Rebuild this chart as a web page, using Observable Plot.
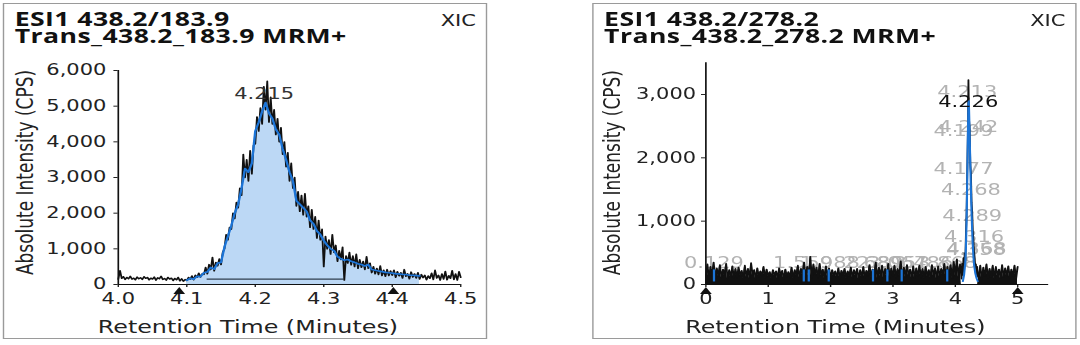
<!DOCTYPE html>
<html>
<head>
<meta charset="utf-8">
<script src="https://cdn.jsdelivr.net/npm/d3@7"></script>
<script src="https://cdn.jsdelivr.net/npm/@observablehq/plot@0.6"></script>
<style>
  html, body { margin: 0; padding: 0; background: #fff; width: 1080px; height: 345px; overflow: hidden; }
  #wrap { position: absolute; left: 0; top: 0; width: 772px; height: 345px; transform: scaleX(1.4); transform-origin: 0 0; }
  .panel { position: absolute; top: 3px; width: 344px; height: 334px; border: 1px solid #9a9a9a; background: #fff; }
  .titles { padding: 7px 0 0 7.5px; font-family: "Open Sans", sans-serif; font-weight: 700; font-size: 19px; line-height: 17px; color: #111; letter-spacing: 0.3px; }
  .xic { position: absolute; right: 7px; top: 9px; font-family: "DejaVu Sans", sans-serif; font-size: 15px; line-height: 17px; color: #222; }
  .chart svg { display: block; }
</style>
</head>
<body>
<div id="wrap">
  <div class="panel" style="left:2px">
    <div class="titles"><div id="t1a"></div><div id="t1b"></div></div>
    <div class="xic" id="x1"></div>
    <div class="chart" id="c1"></div>
  </div>
  <div class="panel" style="left:423px">
    <div class="titles"><div id="t2a"></div><div id="t2b"></div></div>
    <div class="xic" id="x2"></div>
    <div class="chart" id="c2"></div>
  </div>
</div>
<script>
// ---------- texts ----------
const leftTitle = ["ESI1 438.2/183.9", "Trans_438.2_183.9 MRM+"];
const rightTitle = ["ESI1 438.2/278.2", "Trans_438.2_278.2 MRM+"];
const traceType = "XIC";
const xLabel = "Retention Time (Minutes)";
const yLabel = "Absolute Intensity (CPS)";

// ---------- left panel: 438.2/183.9 ----------
const leftXTicks = [4.0, 4.1, 4.2, 4.3, 4.4, 4.5];
const leftYTicks = [0, 1000, 2000, 3000, 4000, 5000, 6000];
const leftRawTimes = [
  4.0000,4.0025,4.0050,4.0075,4.0100,4.0125,4.0150,4.0175,4.0200,4.0225,
  4.0250,4.0275,4.0300,4.0325,4.0350,4.0375,4.0400,4.0425,4.0450,4.0475,
  4.0500,4.0525,4.0550,4.0575,4.0600,4.0625,4.0650,4.0675,4.0700,4.0725,
  4.0750,4.0775,4.0800,4.0825,4.0850,4.0875,4.0900,4.0925,4.0950,4.0975,
  4.1000,4.1025,4.1050,4.1075,4.1100,4.1125,4.1150,4.1175,4.1200,4.1225,
  4.1250,4.1275,4.1300,4.1325,4.1350,4.1375,4.1400,4.1425,4.1450,4.1475,
  4.1500,4.1525,4.1550,4.1575,4.1600,4.1625,4.1650,4.1675,4.1700,4.1725,
  4.1750,4.1775,4.1800,4.1825,4.1850,4.1875,4.1900,4.1925,4.1950,4.1975,
  4.2000,4.2025,4.2050,4.2075,4.2100,4.2125,4.2150,4.2175,4.2200,4.2225,
  4.2250,4.2275,4.2300,4.2325,4.2350,4.2375,4.2400,4.2425,4.2450,4.2475,
  4.2500,4.2525,4.2550,4.2575,4.2600,4.2625,4.2650,4.2675,4.2700,4.2725,
  4.2750,4.2775,4.2800,4.2825,4.2850,4.2875,4.2900,4.2925,4.2950,4.2975,
  4.3000,4.3025,4.3050,4.3075,4.3100,4.3125,4.3150,4.3175,4.3200,4.3225,
  4.3250,4.3275,4.3300,4.3325,4.3350,4.3375,4.3400,4.3425,4.3450,4.3475,
  4.3500,4.3525,4.3550,4.3575,4.3600,4.3625,4.3650,4.3675,4.3700,4.3725,
  4.3750,4.3775,4.3800,4.3825,4.3850,4.3875,4.3900,4.3925,4.3950,4.3975,
  4.4000,4.4025,4.4050,4.4075,4.4100,4.4125,4.4150,4.4175,4.4200,4.4225,
  4.4250,4.4275,4.4300,4.4325,4.4350,4.4375,4.4400,4.4425,4.4450,4.4475,
  4.4500,4.4525,4.4550,4.4575,4.4600,4.4625,4.4650,4.4675,4.4700,4.4725,
  4.4750,4.4775,4.4800,4.4825,4.4850,4.4875,4.4900,4.4925,4.4950,4.4975,
  4.5000];
const leftRawValues = [
  150,390,170,220,140,200,160,230,150,180,
  130,210,160,190,140,220,170,200,130,180,
  150,210,120,190,160,230,140,170,120,200,
  150,180,110,170,130,200,100,160,90,140,
  110,200,150,240,130,260,200,320,210,300,
  280,480,300,560,420,760,380,620,520,720,
  560,900,1000,1400,1250,1600,1550,2000,1850,2300,
  2150,2700,2500,3650,3000,3500,2900,3750,3100,3900,
  3950,4700,4300,4950,4500,5550,4900,5700,4550,5250,
  4500,4900,4200,4650,4000,4400,3650,4000,3300,3700,
  2900,3400,2700,3000,2200,2600,2050,2500,1950,2550,
  1900,2200,1600,2100,1550,1900,1300,1800,1250,1550,
  500,1350,1000,1250,850,1400,900,1100,650,950,
  700,1050,120,800,600,900,550,800,500,850,
  450,700,480,650,420,780,450,600,330,500,
  300,450,280,520,250,400,230,420,250,380,
  260,400,200,360,240,330,180,420,230,300,
  160,350,210,300,180,330,150,280,190,260,
  130,240,170,320,140,400,180,260,120,300,
  150,370,130,250,170,390,140,300,120,360,
  200];
const leftSmoothTimes = [
  4.100,4.105,4.110,4.115,4.120,4.125,4.130,4.135,4.140,4.145,
  4.150,4.155,4.160,4.165,4.170,4.175,4.180,4.185,4.190,4.195,
  4.200,4.205,4.210,4.215,4.220,4.225,4.230,4.235,4.240,4.245,
  4.250,4.255,4.260,4.265,4.270,4.275,4.280,4.285,4.290,4.295,
  4.300,4.305,4.310,4.315,4.320,4.325,4.330,4.335,4.340,4.345,
  4.350,4.355,4.360,4.365,4.370,4.375,4.380,4.385,4.390,4.395,
  4.400,4.405,4.410,4.415,4.420,4.425,4.430,4.435,4.440];
const leftSmoothValues = [
  120,170,150,230,220,330,350,480,430,600,
  620,1050,1350,1650,2000,2250,2700,3250,3150,3400,
  4300,4550,4850,5100,4800,4650,4350,4200,3800,3500,
  3150,2900,2350,2250,2150,2050,1800,1700,1500,1400,
  1230,1100,1000,950,780,720,680,700,650,620,
  580,560,520,560,420,400,380,360,340,330,
  320,300,300,280,280,260,260,250,240];
const leftBaseline = [{t1: 4.13, t2: 4.33, v: 150}];
const leftMarkers = [4.089, 4.4016];
const leftPeakLabels = [{t: 4.213, v: 5160, label: "4.215"}];

// ---------- right panel: 438.2/278.2 ----------
const rightXTicks = [0, 1, 2, 3, 4, 5];
const rightYTicks = [0, 1000, 2000, 3000];
const rightRawTimes = [
  0.000,0.025,0.050,0.075,0.100,0.125,0.150,0.175,0.200,0.225,0.250,0.275,0.300,0.325,0.350,0.375,0.400,0.425,0.450,0.475,
  0.500,0.525,0.550,0.575,0.600,0.625,0.650,0.675,0.700,0.725,0.750,0.775,0.800,0.825,0.850,0.875,0.900,0.925,0.950,0.975,
  1.000,1.025,1.050,1.075,1.100,1.125,1.150,1.175,1.200,1.225,1.250,1.275,1.300,1.325,1.350,1.375,1.400,1.425,1.450,1.475,
  1.500,1.525,1.550,1.575,1.600,1.625,1.650,1.675,1.700,1.725,1.750,1.775,1.800,1.825,1.850,1.875,1.900,1.925,1.950,1.975,
  2.000,2.025,2.050,2.075,2.100,2.125,2.150,2.175,2.200,2.225,2.250,2.275,2.300,2.325,2.350,2.375,2.400,2.425,2.450,2.475,
  2.500,2.525,2.550,2.575,2.600,2.625,2.650,2.675,2.700,2.725,2.750,2.775,2.800,2.825,2.850,2.875,2.900,2.925,2.950,2.975,
  3.000,3.025,3.050,3.075,3.100,3.125,3.150,3.175,3.200,3.225,3.250,3.275,3.300,3.325,3.350,3.375,3.400,3.425,3.450,3.475,
  3.500,3.525,3.550,3.575,3.600,3.625,3.650,3.675,3.700,3.725,3.750,3.775,3.800,3.825,3.850,3.875,3.900,3.925,3.950,3.975,
  4.000,4.025,4.050,4.075,
  4.10,4.11,4.12,4.13,4.14,4.15,4.16,4.17,4.18,4.19,4.20,4.21,4.22,4.23,4.24,4.25,4.26,4.27,4.28,4.29,4.30,4.31,4.32,4.33,4.34,4.35,4.36,
  4.375,4.400,4.425,4.450,4.475,4.500,4.525,4.550,4.575,4.600,4.625,4.650,4.675,4.700,4.725,4.750,4.775,4.800,4.825,4.850,4.875,4.900,4.925,4.950,4.975,5.000];
const rightRawValues = [
  120,320,90,280,140,350,100,260,130,310,110,240,150,330,90,230,120,290,100,250,
  110,270,140,220,90,300,120,250,100,340,150,230,90,260,120,210,140,280,100,240,
  130,200,90,230,140,210,100,260,150,220,90,240,120,200,110,270,90,230,140,300,
  110,250,160,350,120,280,130,440,100,320,150,270,110,330,140,240,100,290,130,260,
  100,230,140,210,110,260,90,220,150,250,100,210,130,270,110,230,140,250,90,230,
  120,280,100,220,140,310,110,240,150,350,100,270,130,300,110,250,140,330,100,260,
  130,300,110,250,140,370,100,270,120,310,150,240,110,290,100,260,130,300,110,250,
  100,280,130,230,110,310,140,260,100,290,120,250,150,330,110,280,130,310,100,360,
  140,400,120,320,
  90,330,150,420,200,500,350,800,1100,1700,2300,3230,2600,2450,1900,1750,1300,1150,850,700,520,420,260,320,150,280,120,
  110,300,90,270,130,320,100,250,120,300,90,280,140,240,100,310,120,260,140,290,100,240,130,300,90,280];
const rightPeakWindow = [4.09, 4.37];
const rightSmoothTimes = [4.12,4.14,4.16,4.17,4.18,4.19,4.20,4.21,4.215,4.22,4.23,4.24,4.25,4.26,4.27,4.28,4.29,4.30,4.32,4.34,4.36];
const rightSmoothValues = [50,150,350,600,1000,1600,2300,2850,2900,2750,2350,1900,1500,1150,850,620,450,320,180,100,50];
const rightMinorPeaks = [0.13, 1.57, 1.65, 1.97, 2.68, 2.91, 3.14, 3.87];
const rightMarkers = [0, 5];
const rightMainLabel = [{t: 4.207, v: 2800, label: "4.226"}];
const rightMinorLabels = [
  {t: 4.19, v: 2957, label: "4.213"},
  {t: 4.21, v: 2405, label: "4.242"},
  {t: 4.13, v: 2337, label: "4.199"},
  {t: 4.13, v: 1737, label: "4.177"},
  {t: 4.25, v: 1416, label: "4.268"},
  {t: 4.27, v: 995,  label: "4.289"},
  {t: 4.30, v: 668,  label: "4.316"},
  {t: 4.33, v: 458,  label: "4.358"},
  {t: 4.34, v: 474,  label: "4.368"},
  {t: 0.129, v: 253, label: "0.129"},
  {t: 1.559, v: 253, label: "1.559"},
  {t: 1.988, v: 253, label: "1.988"},
  {t: 2.689, v: 253, label: "2.689"},
  {t: 2.895, v: 253, label: "2.895"},
  {t: 3.067, v: 253, label: "3.067"},
  {t: 3.486, v: 253, label: "3.486"},
  {t: 3.868, v: 253, label: "3.868"}
];

// ---------- build ----------
const zip = (ts, vs) => ts.map((t, i) => ({t, v: vs[i]}));
const leftRaw = zip(leftRawTimes, leftRawValues);
const leftSmooth = zip(leftSmoothTimes, leftSmoothValues);
const rightRaw = zip(rightRawTimes, rightRawValues);
const rightSmooth = zip(rightSmoothTimes, rightSmoothValues);
const outsidePeak = d => (d.t > rightPeakWindow[0] && d.t < rightPeakWindow[1]) ? NaN : d.v;

const BLACK = "#111", BLUE = "#1c74d6", FILL = "#bcd8f5";
const baseStyle = {fontFamily: "DejaVu Sans", fontSize: "15px", color: "#222", background: "transparent", overflow: "visible"};

const left = Plot.plot({
  width: 344, height: 293,
  marginLeft: 81, marginRight: 18.4, marginTop: 25, marginBottom: 54,
  style: baseStyle,
  x: {domain: [leftXTicks[0], leftXTicks[leftXTicks.length - 1]], ticks: leftXTicks, tickFormat: d3.format(".1f"), tickSize: 3, tickPadding: 6, label: null},
  y: {domain: [0, leftYTicks[leftYTicks.length - 1]], ticks: leftYTicks, tickFormat: d3.format(","), tickSize: 3, tickPadding: 5.5, label: null},
  marks: [
    Plot.areaY(leftSmooth, {x: "t", y: "v", fill: FILL}),
    Plot.ruleY(leftBaseline, {y: "v", x1: "t1", x2: "t2", stroke: "#2f3e4e", strokeWidth: 1.4}),
    Plot.lineY(leftRaw, {x: "t", y: "v", stroke: BLACK, strokeWidth: 1.3}),
    Plot.lineY(leftSmooth, {x: "t", y: "v", stroke: BLUE, strokeWidth: 1.7}),
    Plot.ruleX([leftXTicks[0]], {stroke: "#111", strokeWidth: 1.2}),
    Plot.ruleY([0], {stroke: "#111", strokeWidth: 1.2}),
    Plot.dot(leftMarkers, {x: d => d, y: 0, symbol: "triangle", r: 3.1, fill: BLACK, stroke: "none", dy: 7.2}),
    Plot.text(leftPeakLabels, {x: "t", y: "v", text: "label", lineAnchor: "bottom", dy: -1, fill: "#333", fontSize: 15}),
    Plot.text([xLabel], {text: d => d, frameAnchor: "bottom", textAnchor: "middle", lineAnchor: "bottom", dx: -29.7, dy: 48, fontSize: 17, fill: "#222"}),
    Plot.text([yLabel], {text: d => d, frameAnchor: "left", textAnchor: "middle", lineAnchor: "middle", rotate: -90, dx: -66.4, dy: -5, fontSize: 17, fill: "#222"})
  ]
});

const right = Plot.plot({
  width: 344, height: 293,
  marginLeft: 79.7, marginRight: 19.3, marginTop: 17.3, marginBottom: 54,
  style: baseStyle,
  x: {domain: [0, 5.5], ticks: rightXTicks, tickFormat: d3.format("d"), tickSize: 3, tickPadding: 6, label: null},
  y: {domain: [0, 3500], ticks: rightYTicks, tickFormat: d3.format(","), tickSize: 3, tickPadding: 4, label: null},
  marks: [
    Plot.text(rightMinorLabels, {x: "t", y: "v", text: "label", lineAnchor: "bottom", fill: "#b3b3b3", fontSize: 15}),
    Plot.areaY(rightRaw, {x: "t", y: outsidePeak, fill: BLACK}),
    Plot.lineY(rightRaw, {x: "t", y: "v", stroke: BLACK, strokeWidth: 1.3}),
    Plot.ruleX(rightMinorPeaks, {x: d => d, y1: 40, y2: 230, stroke: BLUE, strokeWidth: 1.6}),
    Plot.lineY(rightSmooth, {x: "t", y: "v", stroke: BLUE, strokeWidth: 1.5}),
    Plot.ruleX([0], {stroke: "#111", strokeWidth: 1.2}),
    Plot.ruleY([0], {stroke: "#111", strokeWidth: 1.2}),
    Plot.dot(rightMarkers, {x: d => d, y: 0, symbol: "triangle", r: 3.1, fill: BLACK, stroke: "none", dy: 7.2}),
    Plot.text(rightMainLabel, {x: "t", y: "v", text: "label", lineAnchor: "bottom", fill: "#111", fontSize: 15}),
    Plot.text([xLabel], {text: d => d, frameAnchor: "bottom", textAnchor: "middle", lineAnchor: "bottom", dx: -30, dy: 48, fontSize: 17, fill: "#222"}),
    Plot.text([yLabel], {text: d => d, frameAnchor: "left", textAnchor: "middle", lineAnchor: "middle", rotate: -90, dx: -66.5, dy: -1, fontSize: 17, fill: "#222"})
  ]
});

document.getElementById("t1a").textContent = leftTitle[0];
document.getElementById("t1b").textContent = leftTitle[1];
document.getElementById("t2a").textContent = rightTitle[0];
document.getElementById("t2b").textContent = rightTitle[1];
document.getElementById("x1").textContent = traceType;
document.getElementById("x2").textContent = traceType;
document.getElementById("c1").appendChild(left);
document.getElementById("c2").appendChild(right);
</script>
</body>
</html>
